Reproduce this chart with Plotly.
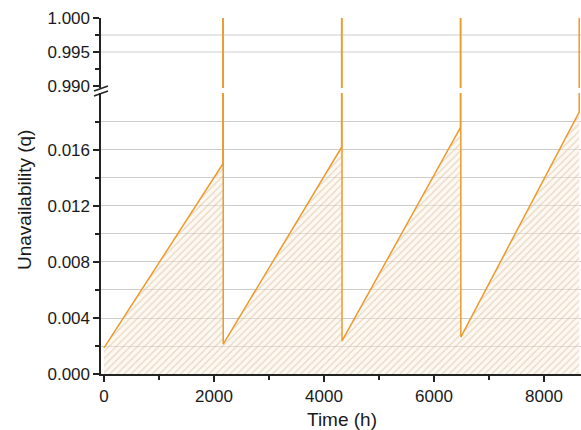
import plotly.graph_objects as go

# ---- data ----
time_h = [0, 2160, 2160, 2168, 2168, 4320, 4320, 4328, 4328, 6480, 6480, 6488, 6488, 8640, 8640, 8648]
unavail = [0.00186, 0.0150, 1.0, 1.0, 0.00214, 0.0162, 1.0, 1.0, 0.00236, 0.0176, 1.0, 1.0, 0.00264, 0.0187, 1.0, 1.0]

x_ticks = [0, 2000, 4000, 6000, 8000]
x_minor = [1000, 3000, 5000, 7000]
low_ticks = [0.0, 0.004, 0.008, 0.012, 0.016]
low_tick_text = ["0.000", "0.004", "0.008", "0.012", "0.016"]
low_minor = [0.002, 0.006, 0.010, 0.014, 0.018]
high_ticks = [0.990, 0.995, 1.000]
high_tick_text = ["0.990", "0.995", "1.000"]
high_minor = [0.9925, 0.9975]
high_grid = [0.995, 0.9975]

LINE = "#ED9A2C"
FONT = "Liberation Sans, Arial, sans-serif"
TXT = "#1a1a1a"
GRID = "#cccccc"

# plot area in pixels
W, H = 581, 430
L, R, T, B = 101, 0, 18, 56
ph = H - T - B  # 356

def py(p):  # pixel y -> paper
    return (H - B - p) / ph

def px(p):
    return (p - L) / (W - L - R)

fig = go.Figure()
fig.add_trace(go.Scatter(
    x=time_h, y=unavail, xaxis="x", yaxis="y", mode="lines",
    line=dict(color=LINE, width=1.5),
    fill="tozeroy",
    fillpattern=dict(shape="/", size=5, solidity=0.22,
                     fgcolor="rgba(195,168,128,0.85)",
                     bgcolor="rgba(250,240,224,0.45)"),
    fillcolor="rgba(250,240,224,0.45)",
    hoverinfo="skip", showlegend=False))
fig.add_trace(go.Scatter(
    x=time_h, y=unavail, xaxis="x", yaxis="y2", mode="lines",
    line=dict(color=LINE, width=1.5),
    hoverinfo="skip", showlegend=False))

tickfont = dict(family=FONT, size=17, color=TXT)

fig.update_layout(
    width=W, height=H,
    margin=dict(l=L, r=R, t=T, b=B),
    paper_bgcolor="white", plot_bgcolor="white",
    font=dict(family=FONT, color=TXT),
    hovermode=False,
    xaxis=dict(
        domain=[0, 1], anchor="y", range=[-54.5, 8673],
        tickvals=x_ticks, ticktext=[str(v) for v in x_ticks],
        ticks="outside", ticklen=6, tickwidth=1.3, tickcolor="#222",
        minor=dict(tickvals=x_minor, ticks="outside", ticklen=4, tickwidth=1.3, tickcolor="#222"),
        showline=True, linecolor="#222", linewidth=1.6,
        showgrid=False, zeroline=False, tickfont=tickfont,
    ),
    yaxis=dict(
        domain=[0, py(93)], anchor="x", range=[0, 0.02007],
        tickvals=low_ticks, ticktext=low_tick_text,
        ticks="outside", ticklen=6, tickwidth=1.3, tickcolor="#222",
        minor=dict(tickvals=low_minor, ticks="outside", ticklen=4, tickwidth=1.3,
                   tickcolor="#222", showgrid=True, gridcolor=GRID, gridwidth=1),
        showline=True, linecolor="#222", linewidth=1.6,
        showgrid=True, gridcolor=GRID, gridwidth=1, zeroline=False,
        tickfont=tickfont,
    ),
    yaxis2=dict(
        domain=[py(88), 1], anchor="x", range=[0.98971, 1.0],
        tickvals=high_ticks, ticktext=high_tick_text,
        ticks="outside", ticklen=6, tickwidth=1.3, tickcolor="#222",
        minor=dict(tickvals=high_minor, ticks="outside", ticklen=4, tickwidth=1.3, tickcolor="#222"),
        showline=True, linecolor="#222", linewidth=1.6,
        showgrid=False, zeroline=False, tickfont=tickfont,
    ),
)

# gridlines of the upper panel
for g in high_grid:
    fig.add_shape(type="line", xref="x domain", yref="y2", x0=0, x1=1, y0=g, y1=g,
                  line=dict(color=GRID, width=1), layer="below")

# axis break marks
for dy in (0, 5):
    fig.add_shape(type="line", xref="paper", yref="paper",
                  x0=px(94), x1=px(108), y0=py(91 + dy), y1=py(86 + dy),
                  line=dict(color="#222", width=1.4))

# axis titles
fig.add_annotation(text="Unavailability (q)", xref="paper", yref="paper",
                   x=px(24), y=py(200), xanchor="center", yanchor="middle",
                   textangle=-90, showarrow=False,
                   font=dict(family=FONT, size=19, color=TXT))
fig.add_annotation(text="Time (h)", xref="paper", yref="paper",
                   x=px(342), y=py(419), xanchor="center", yanchor="middle",
                   showarrow=False, font=dict(family=FONT, size=19, color=TXT))

fig.write_html("out.html",
               config={"displayModeBar": False, "staticPlot": True},
               post_script="document.body.style.margin='0';document.body.style.overflow='hidden';")
